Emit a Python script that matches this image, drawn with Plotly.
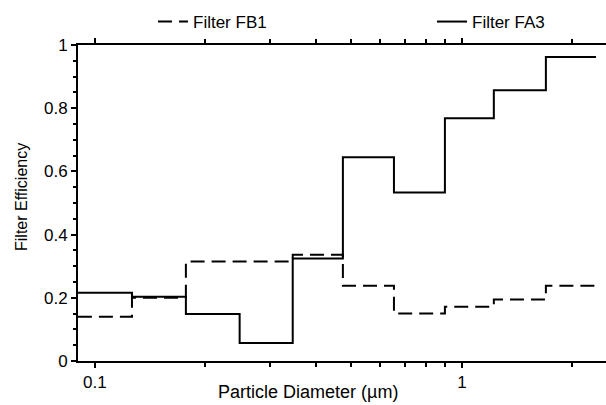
import plotly.graph_objects as go

# Bin edges (particle diameter, um) and filter efficiencies per bin
bin_edges = [0.0899, 0.1262, 0.177, 0.248, 0.346, 0.474, 0.653, 0.899, 1.222, 1.694, 2.32]
eff_fb1 = [0.14, 0.20, 0.315, 0.315, 0.336, 0.238, 0.150, 0.172, 0.195, 0.238]
eff_fa3 = [0.216, 0.203, 0.149, 0.057, 0.324, 0.645, 0.533, 0.768, 0.857, 0.962]

x_tick_vals = [0.1, 1]
x_tick_text = ["0.1", "1"]
x_minor_vals = [0.2, 0.3, 0.4, 0.5, 0.6, 0.7, 0.8, 0.9, 2]
y_tick_vals = [0, 0.2, 0.4, 0.6, 0.8, 1]
y_tick_text = ["0", "0.2", "0.4", "0.6", "0.8", "1"]

FONT = "Liberation Sans, Arial, sans-serif"

fig = go.Figure()
fig.add_trace(go.Scatter(
    x=bin_edges, y=eff_fb1 + [eff_fb1[-1]], mode="lines", line_shape="hv",
    name="Filter FB1", line=dict(color="black", width=2, dash="14px,7px"),
    legend="legend",
))
fig.add_trace(go.Scatter(
    x=bin_edges, y=eff_fa3 + [eff_fa3[-1]], mode="lines", line_shape="hv",
    name="Filter FA3", line=dict(color="black", width=2),
    legend="legend2",
))

legend_common = dict(
    orientation="h", xref="container", yref="container",
    y=1 - 4 / 405, xanchor="left", yanchor="top",
    font=dict(family=FONT, size=17, color="black"),
    bgcolor="rgba(0,0,0,0)", itemwidth=30,
)

fig.update_layout(
    width=606, height=405,
    margin=dict(l=78, r=0, t=45, b=44, autoexpand=False),
    paper_bgcolor="white", plot_bgcolor="white",
    font=dict(family=FONT, size=17, color="black"),
    showlegend=True,
    legend=dict(x=153 / 606, **legend_common),
    legend2=dict(x=432 / 606, **legend_common),
    xaxis=dict(
        type="log", range=[-1.046, 0.3927],
        tickmode="array", tickvals=x_tick_vals, ticktext=x_tick_text,
        ticks="outside", ticklen=5, tickwidth=1.5, tickcolor="black",
        showline=True, linecolor="black", linewidth=2, mirror="ticks",
        showgrid=False, zeroline=False,
        minor=dict(tickmode="array", tickvals=x_minor_vals, ticks="outside",
                   ticklen=4, tickwidth=1.5, tickcolor="black", showgrid=False),
        tickfont=dict(family=FONT, size=17, color="black"),
    ),
    yaxis=dict(
        range=[0, 1], tickmode="array", tickvals=y_tick_vals, ticktext=y_tick_text,
        ticks="outside", ticklen=5, tickwidth=1.5, tickcolor="black",
        showline=True, linecolor="black", linewidth=2, mirror=False,
        showgrid=False, zeroline=False,
        minor=dict(dtick=0.05, ticks="outside", ticklen=3, tickwidth=1.5,
                   tickcolor="black", showgrid=False),
        tickfont=dict(family=FONT, size=17, color="black"),
    ),
    annotations=[
        dict(text="Particle Diameter (µm)", xref="paper", yref="paper",
             x=(308 - 78) / 528, y=-(392 - 361) / 316, xanchor="center", yanchor="middle",
             showarrow=False, font=dict(family=FONT, size=18, color="black")),
        dict(text="Filter Efficiency", xref="paper", yref="paper",
             x=-(78 - 21) / 528, y=(361 - 197) / 316, xanchor="center", yanchor="middle",
             textangle=-90, showarrow=False,
             font=dict(family=FONT, size=16, color="black")),
    ],
)

fig.write_html("out.html")
